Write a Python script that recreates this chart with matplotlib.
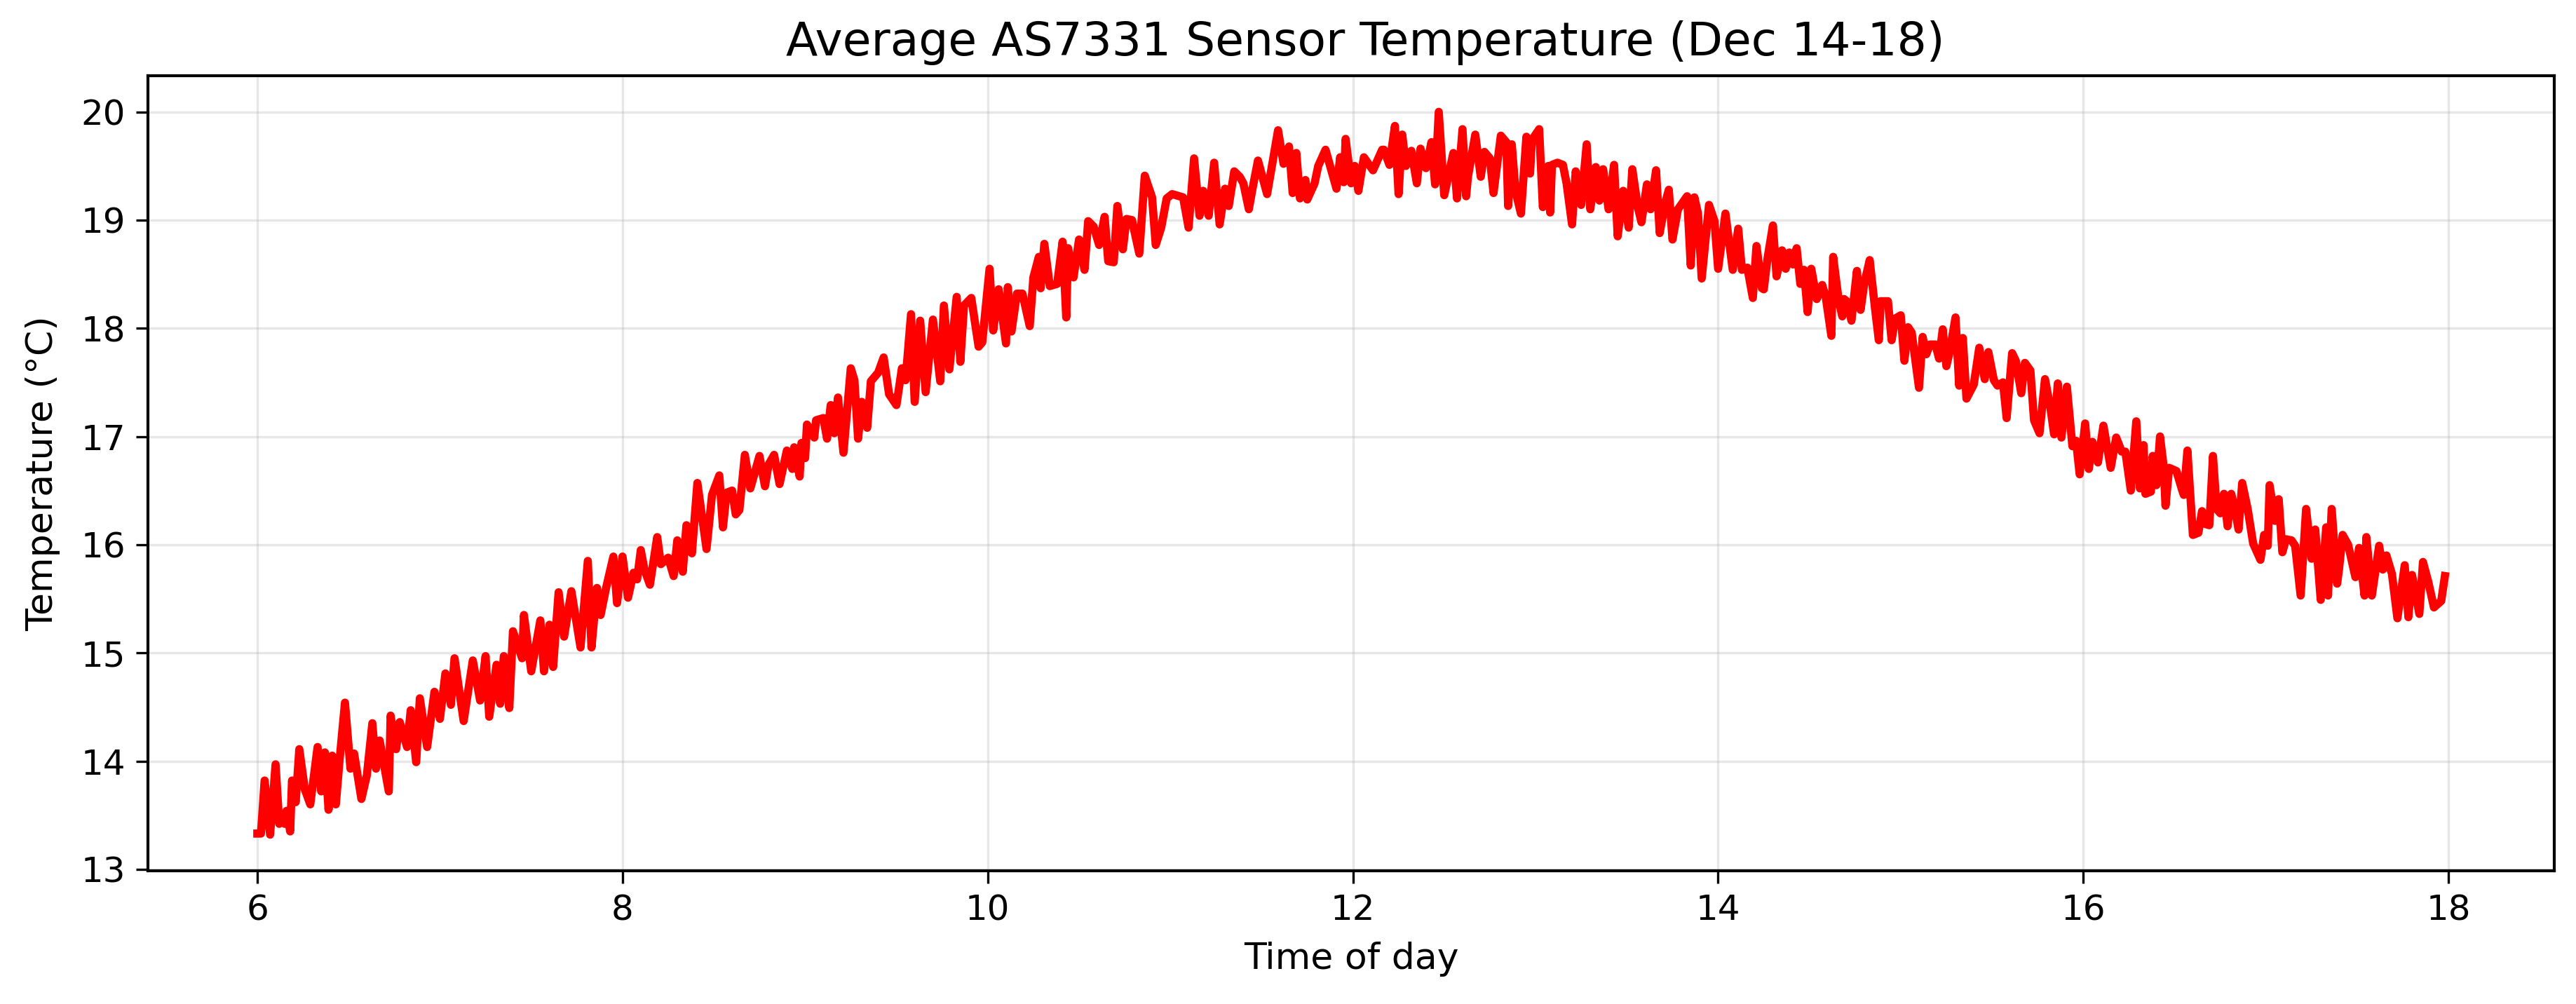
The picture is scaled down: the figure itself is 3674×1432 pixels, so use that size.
import matplotlib
matplotlib.use("Agg")
import matplotlib.pyplot as plt

hours = [
    6.00, 6.02, 6.04, 6.07, 6.10, 6.12, 6.14, 6.15, 6.16, 6.18, 6.19, 6.21, 6.23, 6.26, 6.29, 6.33, 6.35, 6.37, 6.39, 6.41,
    6.43, 6.45, 6.48, 6.51, 6.53, 6.57, 6.60, 6.63, 6.65, 6.67, 6.72, 6.73, 6.76, 6.78, 6.82, 6.84, 6.87, 6.89, 6.93, 6.97,
    7.00, 7.03, 7.06, 7.08, 7.13, 7.18, 7.22, 7.25, 7.27, 7.31, 7.33, 7.35, 7.38, 7.40, 7.45, 7.46, 7.50, 7.55, 7.57, 7.60,
    7.62, 7.65, 7.68, 7.72, 7.77, 7.81, 7.83, 7.86, 7.88, 7.91, 7.95, 7.97, 8.00, 8.03,
    8.06, 8.08, 8.10, 8.12, 8.15, 8.19, 8.21, 8.25, 8.28, 8.30, 8.33, 8.35, 8.38, 8.41, 8.46, 8.49, 8.53, 8.55, 8.57, 8.60,
    8.62, 8.64, 8.67, 8.70, 8.75, 8.78, 8.80, 8.83, 8.86, 8.90, 8.93, 8.94, 8.97, 8.98, 9.00, 9.01, 9.05, 9.06, 9.10, 9.12,
    9.14, 9.16, 9.18, 9.21, 9.25, 9.27, 9.29, 9.31, 9.34, 9.36, 9.40, 9.43, 9.46, 9.50, 9.53, 9.55, 9.58, 9.60, 9.63, 9.66,
    9.70, 9.74, 9.76, 9.79, 9.83, 9.85, 9.87, 9.91, 9.95, 9.97, 10.01, 10.03, 10.06,
    10.10, 10.11, 10.13, 10.16, 10.19, 10.23, 10.25, 10.28, 10.29, 10.31, 10.34, 10.38, 10.41, 10.43, 10.44, 10.47, 10.50,
    10.53, 10.55, 10.58, 10.61, 10.64, 10.66, 10.69, 10.71, 10.74, 10.76, 10.79, 10.83, 10.86, 10.90, 10.92, 10.95, 10.98,
    11.01, 11.05, 11.07, 11.10, 11.13, 11.16, 11.18, 11.21, 11.24, 11.27, 11.30, 11.32, 11.35, 11.38, 11.40, 11.43, 11.45,
    11.48, 11.53, 11.59, 11.62, 11.65, 11.67, 11.69, 11.71, 11.74, 11.75, 11.79, 11.81, 11.85, 11.91, 11.93, 11.95, 11.96,
    11.99, 12.01, 12.03, 12.06, 12.11, 12.16,
    12.17, 12.20, 12.22, 12.23, 12.25, 12.27, 12.29, 12.32, 12.35, 12.37, 12.40, 12.43, 12.45, 12.47, 12.50, 12.55, 12.57,
    12.60, 12.62, 12.63, 12.67, 12.70, 12.72, 12.75, 12.77, 12.81, 12.84, 12.85, 12.87, 12.89, 12.92, 12.95, 12.97, 12.98,
    13.02, 13.04, 13.07, 13.08, 13.09, 13.12, 13.15, 13.17, 13.20, 13.22, 13.25, 13.28, 13.30, 13.33, 13.35, 13.37, 13.40,
    13.43, 13.45, 13.48, 13.51, 13.53, 13.56, 13.58, 13.61, 13.63, 13.66, 13.68, 13.71, 13.73, 13.75, 13.78, 13.83, 13.85,
    13.87, 13.89, 13.91, 13.95, 13.98, 14.00, 14.04, 14.08, 14.11, 14.13, 14.16, 14.19, 14.21, 14.24,
    14.25, 14.27, 14.30, 14.32, 14.35, 14.37, 14.39, 14.41, 14.43, 14.45, 14.47, 14.49, 14.51, 14.54, 14.57, 14.59, 14.62,
    14.63, 14.66, 14.68, 14.69, 14.71, 14.73, 14.76, 14.78, 14.80, 14.83, 14.86, 14.88, 14.89, 14.93, 14.95, 14.97, 15.00,
    15.02, 15.04, 15.06, 15.10, 15.12, 15.14, 15.16, 15.19, 15.21, 15.23, 15.25, 15.27, 15.30, 15.32, 15.34, 15.36, 15.40,
    15.43, 15.46, 15.48, 15.51, 15.53, 15.56, 15.58, 15.61, 15.63, 15.66, 15.68, 15.71, 15.73, 15.76, 15.79, 15.82, 15.84,
    15.86, 15.88, 15.91, 15.94, 15.96, 15.98, 16.01, 16.03, 16.05, 16.08, 16.11, 16.15, 16.18, 16.21, 16.23, 16.26, 16.29,
    16.31,
    16.33, 16.34, 16.37, 16.38, 16.40, 16.42, 16.44, 16.45, 16.47, 16.51, 16.54, 16.55, 16.57, 16.60, 16.63, 16.65, 16.67,
    16.69, 16.71, 16.73, 16.75, 16.77, 16.79, 16.81, 16.83, 16.85, 16.87, 16.90, 16.93, 16.97, 16.99, 17.01, 17.02, 17.05,
    17.07, 17.09, 17.11, 17.14, 17.16, 17.19, 17.22, 17.25, 17.27, 17.30, 17.33, 17.34, 17.36, 17.39, 17.40, 17.42, 17.45,
    17.49, 17.51, 17.54, 17.55, 17.58, 17.62, 17.64, 17.66, 17.69, 17.72, 17.76, 17.78, 17.80, 17.84, 17.86, 17.89, 17.92,
    17.96, 17.98,
]

temps = [
    13.33, 13.33, 13.82, 13.32, 13.97, 13.42, 13.50, 13.42, 13.54, 13.35, 13.82, 13.62, 14.11, 13.74, 13.60, 14.13, 13.72, 14.08, 13.55, 14.05,
    13.60, 14.00, 14.54, 13.93, 14.07, 13.65, 13.87, 14.35, 13.93, 14.19, 13.72, 14.42, 14.11, 14.36, 14.13, 14.47, 13.99, 14.58, 14.13, 14.64,
    14.39, 14.81, 14.52, 14.95, 14.37, 14.93, 14.56, 14.97, 14.41, 14.89, 14.53, 14.97, 14.49, 15.20, 14.95, 15.35, 14.83, 15.30, 14.83, 15.26,
    14.87, 15.56, 15.15, 15.57, 15.05, 15.85, 15.05, 15.60, 15.35, 15.60, 15.89, 15.46, 15.89, 15.51,
    15.74, 15.68, 15.95, 15.77, 15.63, 16.07, 15.82, 15.88, 15.71, 16.04, 15.75, 16.18, 15.92, 16.57, 15.96, 16.46, 16.64, 16.16, 16.48, 16.50,
    16.28, 16.32, 16.83, 16.52, 16.82, 16.54, 16.74, 16.83, 16.56, 16.87, 16.70, 16.90, 16.63, 16.94, 16.80, 17.11, 16.99, 17.15, 17.17, 16.98,
    17.29, 17.03, 17.36, 16.85, 17.63, 17.52, 16.98, 17.32, 17.08, 17.51, 17.59, 17.73, 17.39, 17.29, 17.63, 17.52, 18.13, 17.32, 18.07, 17.41,
    18.08, 17.51, 18.21, 17.62, 18.29, 17.69, 18.21, 18.28, 17.83, 17.87, 18.55, 17.98, 18.36,
    17.86, 18.38, 17.97, 18.32, 18.32, 18.02, 18.47, 18.66, 18.37, 18.78, 18.39, 18.41, 18.80, 18.10, 18.74, 18.47, 18.82,
    18.54, 18.99, 18.94, 18.77, 19.03, 18.62, 18.61, 19.13, 18.73, 19.01, 19.00, 18.69, 19.41, 19.21, 18.77, 18.93, 19.20,
    19.24, 19.22, 19.21, 18.93, 19.57, 19.04, 19.27, 19.04, 19.53, 18.96, 19.29, 19.13, 19.45, 19.40, 19.34, 19.10, 19.29,
    19.55, 19.24, 19.83, 19.52, 19.68, 19.25, 19.62, 19.20, 19.37, 19.19, 19.34, 19.50, 19.65, 19.29, 19.58, 19.35, 19.75,
    19.34, 19.50, 19.27, 19.58, 19.46, 19.65,
    19.65, 19.51, 19.75, 19.87, 19.24, 19.79, 19.50, 19.64, 19.34, 19.66, 19.48, 19.72, 19.33, 20.00, 19.23, 19.62, 19.20,
    19.84, 19.22, 19.40, 19.79, 19.40, 19.63, 19.57, 19.25, 19.78, 19.72, 19.13, 19.70, 19.27, 19.06, 19.77, 19.43, 19.74,
    19.84, 19.12, 19.50, 19.07, 19.51, 19.53, 19.51, 19.34, 18.96, 19.45, 19.14, 19.70, 19.10, 19.49, 19.18, 19.47, 19.10,
    19.51, 18.85, 19.27, 18.93, 19.47, 19.12, 18.98, 19.33, 19.10, 19.46, 18.88, 19.16, 19.28, 18.82, 19.10, 19.22, 18.58,
    19.21, 19.06, 18.46, 19.14, 18.99, 18.55, 19.06, 18.54, 18.92, 18.54, 18.56, 18.28, 18.76, 18.37,
    18.36, 18.64, 18.95, 18.48, 18.72, 18.55, 18.70, 18.59, 18.74, 18.41, 18.54, 18.15, 18.55, 18.27, 18.40, 18.28, 17.93,
    18.66, 18.26, 18.11, 18.27, 18.24, 18.07, 18.53, 18.17, 18.41, 18.63, 18.17, 17.89, 18.25, 18.25, 17.89, 18.09, 18.12,
    17.70, 18.01, 17.96, 17.45, 17.92, 17.76, 17.85, 17.85, 17.72, 17.99, 17.65, 17.80, 18.10, 17.47, 17.91, 17.35, 17.48,
    17.82, 17.53, 17.78, 17.52, 17.47, 17.50, 17.17, 17.77, 17.70, 17.40, 17.68, 17.61, 17.15, 17.03, 17.53, 17.26, 17.02,
    17.49, 16.99, 17.46, 16.91, 16.96, 16.65, 17.12, 16.70, 16.95, 16.76, 17.10, 16.71, 16.99, 16.86, 16.86, 16.50, 17.14,
    16.52,
    16.92, 16.47, 16.49, 16.82, 16.55, 17.00, 16.72, 16.36, 16.71, 16.68, 16.51, 16.46, 16.87, 16.09, 16.11, 16.31, 16.19,
    16.18, 16.82, 16.33, 16.29, 16.47, 16.17, 16.47, 16.33, 16.14, 16.57, 16.33, 16.01, 15.86, 16.09, 15.99, 16.55, 16.22,
    16.42, 15.93, 16.05, 16.04, 15.99, 15.53, 16.33, 15.87, 16.14, 15.49, 16.16, 15.53, 16.33, 15.64, 15.77, 16.09, 16.00,
    15.70, 15.97, 15.53, 16.07, 15.53, 15.99, 15.77, 15.90, 15.73, 15.32, 15.81, 15.33, 15.72, 15.36, 15.84, 15.65, 15.42,
    15.48, 15.71,
]

title = "Average AS7331 Sensor Temperature (Dec 14-18)"
x_label = "Time of day"
y_label = "Temperature (°C)"

fig = plt.figure(figsize=(3674 / 300, 1432 / 300), dpi=300)
ax = fig.add_axes([211 / 3674, 1 - 1242 / 1432, (3643 - 211) / 3674, (1242 - 108) / 1432])
ax.plot(hours, temps, color="red", linewidth=2.8)
ax.set_xticks([6, 8, 10, 12, 14, 16, 18])
ax.set_yticks([13, 14, 15, 16, 17, 18, 19, 20])
ax.grid(True, alpha=0.3)
ax.set_title(title, fontsize=15.9, pad=7, x=0.506)
ax.set_xlabel(x_label, fontsize=12.5, labelpad=5)
ax.set_ylabel(y_label, fontsize=12.5, labelpad=7)
ax.tick_params(labelsize=12, length=4.2)
for s in ax.spines.values():
    s.set_linewidth(1.0)
fig.savefig("out.png", dpi=300)
